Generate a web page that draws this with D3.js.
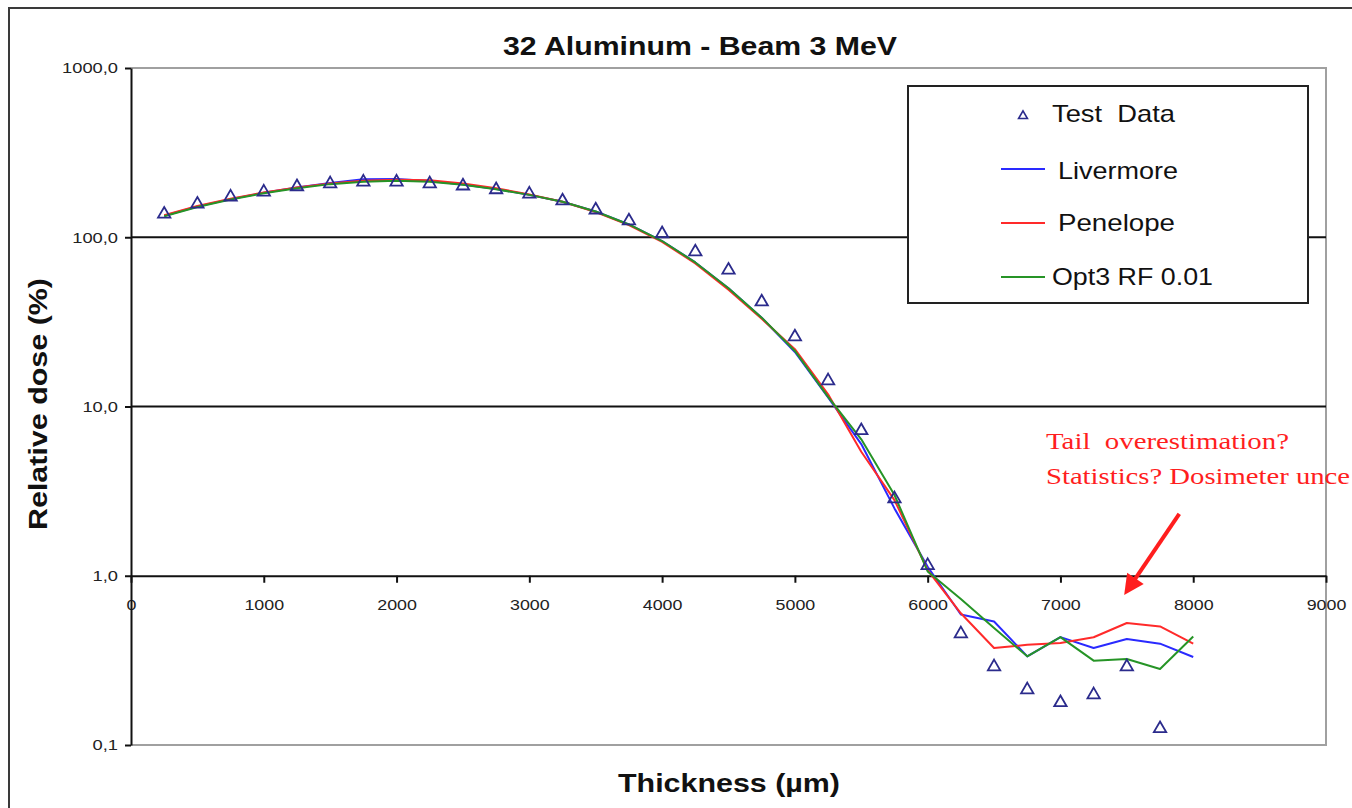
<!DOCTYPE html>
<html>
<head>
<meta charset="utf-8">
<script src="https://cdn.jsdelivr.net/npm/d3@7/dist/d3.min.js"></script>
<style>
  html, body { margin: 0; padding: 0; background: #fff; overflow: hidden; }
  svg { display: block; }
  text { white-space: pre; }
</style>
</head>
<body>
<svg id="chart" width="1352" height="808"></svg>
<script>
// Depth-dose profile in aluminium, 3 MeV electron beam
const thickness = [250, 500, 750, 1000, 1250, 1500, 1750, 2000, 2250, 2500, 2750, 3000,
  3250, 3500, 3750, 4000, 4250, 4500, 4750, 5000, 5250, 5500, 5750, 6000,
  6250, 6500, 6750, 7000, 7250, 7500, 7750, 8000];

// Measured dose (%), 250 .. 7750 µm
const testData = [137, 157, 173, 185, 199, 207, 212, 212, 207, 201, 191, 180,
  164, 145, 125, 105, 82, 64, 41.5, 25.8, 14.2, 7.2, 2.85, 1.15,
  0.454, 0.290, 0.212, 0.178, 0.198, 0.290, 0.125];

// Simulated dose (%), 250 .. 8000 µm
const livermore = [134, 152, 168, 183, 197, 209, 220, 221, 215, 205, 193, 178,
  162, 142, 119, 95, 71, 50, 33.5, 21, 11.3, 6.0, 2.5, 1.13,
  0.59, 0.537, 0.334, 0.434, 0.374, 0.423, 0.397, 0.331];
const penelope = [135, 153, 169, 184, 197, 208, 216, 219, 217, 208, 195, 179,
  162, 141, 118, 94, 70, 49, 33, 21.8, 11.8, 5.4, 2.8, 1.08,
  0.60, 0.374, 0.391, 0.400, 0.433, 0.526, 0.502, 0.397];
const opt3 = [133, 151, 167, 182, 195, 206, 213, 216, 213, 204, 192, 178,
  162, 142, 119, 95, 71, 50, 33.5, 21.3, 11.4, 6.4, 3.0, 1.06,
  0.728, 0.491, 0.334, 0.434, 0.315, 0.322, 0.281, 0.438];

const xTicks = [0, 1000, 2000, 3000, 4000, 5000, 6000, 7000, 8000, 9000];
const yTicks = [0.1, 1, 10, 100, 1000];
const yTickLabels = ["0,1", "1,0", "10,0", "100,0", "1000,0"];

const seriesNames = ["Livermore", "Penelope", "Opt3 RF 0.01"];
const seriesColors = ["#2a2aff", "#ff2a2a", "#269426"];

const svg = d3.select("#chart");
const FONT = "Arial, 'Liberation Sans', sans-serif";

// Stretch a text element horizontally to a given width
function fitWidth(sel, w) {
  sel.attr("textLength", w).attr("lengthAdjust", "spacingAndGlyphs");
}
function stretch(sel, k) {
  sel.each(function () {
    const n = this.getComputedTextLength();
    d3.select(this).attr("textLength", n * k).attr("lengthAdjust", "spacingAndGlyphs");
  });
}

// Outer frame
svg.append("rect")
  .attr("x", 9).attr("y", 8).attr("width", 1400).attr("height", 900)
  .attr("fill", "none").attr("stroke", "#3a3a3a").attr("stroke-width", 2);

const plotL = 131, plotR = 1326, plotT = 68, plotB = 745;
const x = d3.scaleLinear().domain([0, 9000]).range([plotL, plotR]);
const y = d3.scaleLog().domain([0.1, 1000]).range([plotB, plotT]);

// Plot area border (grey)
svg.append("path")
  .attr("d", `M${plotL},${plotT}H${plotR}V${plotB}H${plotL}`)
  .attr("fill", "none").attr("stroke", "#a0a0a0").attr("stroke-width", 2);

// Major gridlines at 10 and 100
svg.append("g").selectAll("line").data([10, 100]).join("line")
  .attr("x1", plotL).attr("x2", plotR)
  .attr("y1", d => y(d)).attr("y2", d => y(d))
  .attr("stroke", "#111").attr("stroke-width", 2);

// X axis sits on the 1,0 line
const xAxis = svg.append("g")
  .attr("transform", `translate(0,${y(1)})`)
  .call(d3.axisBottom(x).tickValues(xTicks).tickFormat(d3.format("d"))
    .tickSize(7).tickSizeOuter(0).tickPadding(16));
xAxis.select(".domain").attr("stroke", "#111").attr("stroke-width", 2);
xAxis.selectAll(".tick line").attr("stroke", "#111").attr("stroke-width", 2);
xAxis.selectAll(".tick text")
  .attr("font-family", FONT).attr("font-size", 15.5).attr("fill", "#222")
  .call(stretch, 1.15);

// Y axis
const yAxis = svg.append("g")
  .attr("transform", `translate(${plotL},0)`)
  .call(d3.axisLeft(y).tickValues(yTicks)
    .tickFormat((d, i) => yTickLabels[i])
    .tickSize(6).tickSizeOuter(0).tickPadding(7));
yAxis.select(".domain").attr("stroke", "#111").attr("stroke-width", 2);
yAxis.selectAll(".tick line").attr("stroke", "#111").attr("stroke-width", 2);
yAxis.selectAll(".tick text")
  .attr("font-family", FONT).attr("font-size", 15.5).attr("fill", "#222")
  .call(stretch, 1.18);

// Simulation curves
const line = d3.line().x((d, i) => x(thickness[i])).y(d => y(d));
[livermore, penelope, opt3].forEach((s, k) => {
  svg.append("path").datum(s)
    .attr("d", line)
    .attr("fill", "none")
    .attr("stroke", seriesColors[k])
    .attr("stroke-width", 2)
    .attr("stroke-linejoin", "round");
});

// Measured points
const tri = d3.symbol().type(d3.symbolTriangle).size(66);
svg.append("g").selectAll("path").data(testData).join("path")
  .attr("transform", (d, i) => `translate(${x(thickness[i])},${y(d)})`)
  .attr("d", tri)
  .attr("fill", "none")
  .attr("stroke", "#2b2b8c")
  .attr("stroke-width", 1.8);

// Title
svg.append("text")
  .attr("x", 700).attr("y", 55).attr("text-anchor", "middle")
  .attr("font-family", FONT).attr("font-weight", "bold").attr("font-size", 26)
  .attr("fill", "#111")
  .text("32 Aluminum - Beam 3 MeV")
  .call(fitWidth, 394);

// Axis titles
svg.append("text")
  .attr("x", 729).attr("y", 792).attr("text-anchor", "middle")
  .attr("font-family", FONT).attr("font-weight", "bold").attr("font-size", 26)
  .attr("fill", "#111")
  .text("Thickness (µm)")
  .call(fitWidth, 222);

svg.append("text")
  .attr("transform", "translate(47,404) rotate(-90)")
  .attr("text-anchor", "middle")
  .attr("font-family", FONT).attr("font-weight", "bold").attr("font-size", 26)
  .attr("fill", "#111")
  .text("Relative dose (%)")
  .call(fitWidth, 252);

// Legend
const lg = svg.append("g");
lg.append("rect")
  .attr("x", 908).attr("y", 86).attr("width", 400).attr("height", 217)
  .attr("fill", "#fff").attr("stroke", "#222").attr("stroke-width", 2);

lg.append("path")
  .attr("transform", "translate(1023,116)")
  .attr("d", d3.symbol().type(d3.symbolTriangle).size(34))
  .attr("fill", "none").attr("stroke", "#2b2b8c").attr("stroke-width", 1.6);
lg.append("text")
  .attr("x", 1052).attr("y", 122)
  .attr("font-family", FONT).attr("font-size", 24).attr("fill", "#111")
  .text("Test  Data").call(fitWidth, 123);

const legendRows = [
  { y: 169, ty: 179, tx: 1058, w: 120 },
  { y: 223, ty: 231, tx: 1058, w: 117 },
  { y: 277, ty: 285, tx: 1052, w: 161 }
];
legendRows.forEach((r, k) => {
  lg.append("line")
    .attr("x1", 1001).attr("x2", 1045).attr("y1", r.y).attr("y2", r.y)
    .attr("stroke", seriesColors[k]).attr("stroke-width", 2);
  lg.append("text")
    .attr("x", r.tx).attr("y", r.ty)
    .attr("font-family", FONT).attr("font-size", 24).attr("fill", "#111")
    .text(seriesNames[k]).call(fitWidth, r.w);
});

// Annotation on the tail region
const noteColor = "#ff1e1e";
const SERIF = "'Liberation Serif', 'Times New Roman', serif";
const note1 = svg.append("text")
  .attr("x", 1046).attr("y", 449)
  .attr("font-family", SERIF).attr("font-size", 24).attr("fill", noteColor)
  .text("Tail  overestimation?");
const natural1 = note1.node().getComputedTextLength();
const k1 = 243 / natural1;
note1.call(fitWidth, 243);
const note2 = svg.append("text")
  .attr("x", 1046).attr("y", 484)
  .attr("font-family", SERIF).attr("font-size", 24).attr("fill", noteColor)
  .text("Statistics? Dosimeter unce");
note2.call(fitWidth, Math.min(note2.node().getComputedTextLength() * k1, 304));

// Arrow pointing at the tail
const arrowFrom = [7895, 2.32];
const arrowTo = [7480, 0.77];
const p0 = [x(arrowFrom[0]), y(arrowFrom[1])];
const p1 = [x(arrowTo[0]), y(arrowTo[1])];
const dx = p1[0] - p0[0], dy = p1[1] - p0[1];
const len = Math.hypot(dx, dy);
const ux = dx / len, uy = dy / len;
const headLen = 20, headHalf = 10;
const base = [p1[0] - ux * headLen, p1[1] - uy * headLen];
svg.append("line")
  .attr("x1", p0[0]).attr("y1", p0[1])
  .attr("x2", base[0] + ux * 2).attr("y2", base[1] + uy * 2)
  .attr("stroke", noteColor).attr("stroke-width", 4);
svg.append("path")
  .attr("d", `M${p1[0]},${p1[1]}L${base[0] - uy * headHalf},${base[1] + ux * headHalf}L${base[0] + uy * headHalf},${base[1] - ux * headHalf}Z`)
  .attr("fill", noteColor);
</script>
</body>
</html>
